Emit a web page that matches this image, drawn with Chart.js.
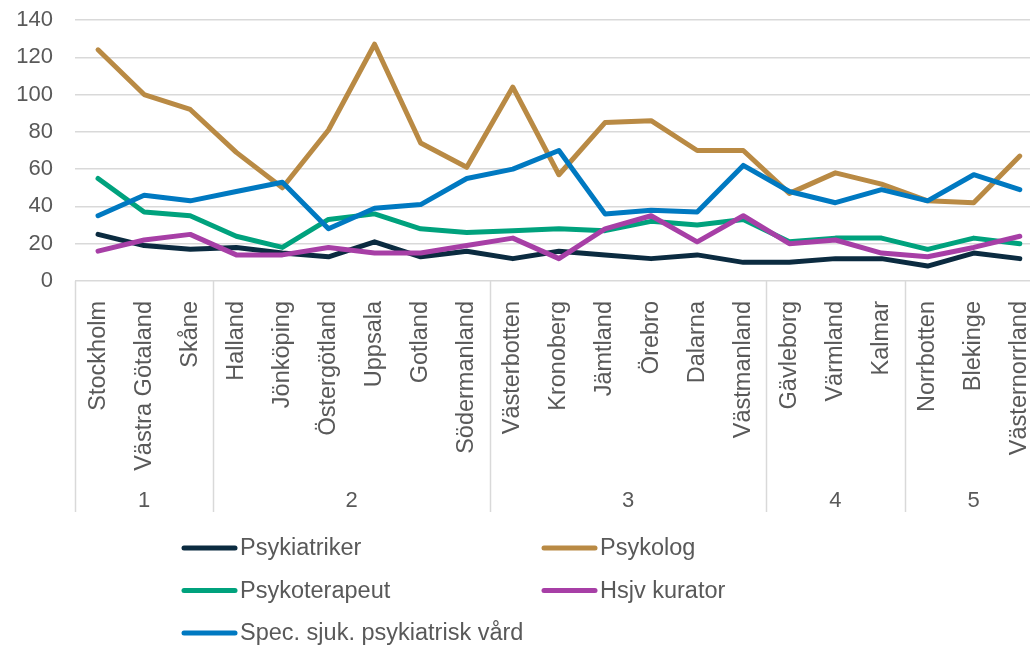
<!DOCTYPE html>
<html>
<head>
<meta charset="utf-8">
<script src="https://cdn.jsdelivr.net/npm/chart.js@4.4.0/dist/chart.umd.min.js"></script>
<style>
  html, body { margin: 0; padding: 0; background: #fff; overflow: hidden; }
  #wrap { width: 1060px; height: 645px; }
</style>
</head>
<body>
<div id="wrap"><canvas id="chart"></canvas></div>
<script>
// Regions (x axis categories)
const regions = ['Stockholm', 'Västra Götaland', 'Skåne', 'Halland', 'Jönköping', 'Östergötland',
    'Uppsala', 'Gotland', 'Södermanland', 'Västerbotten', 'Kronoberg', 'Jämtland', 'Örebro',
    'Dalarna', 'Västmanland', 'Gävleborg', 'Värmland', 'Kalmar', 'Norrbotten', 'Blekinge', 'Västernorrland'];

// Group row under the region labels
const groupLabels = ['1', '2', '3', '4', '5'];
const groupSizes = [3, 6, 6, 3, 3];

// Series values
const psykiatriker = [25, 19, 17, 18, 15, 13, 21, 13, 16, 12, 16, 14, 12, 14, 10, 10, 12, 12, 8, 15, 12];
const psykolog = [124, 100, 92, 69, 50, 81, 127, 74, 61, 104, 57, 85, 86, 70, 70, 47, 58, 52, 43, 42, 67];
const psykoterapeut = [55, 37, 35, 24, 18, 33, 36, 28, 26, 27, 28, 27, 32, 30, 33, 21, 23, 23, 17, 23, 20];
const kurator = [16, 22, 25, 14, 14, 18, 15, 15, 19, 23, 12, 28, 35, 21, 35, 20, 22, 15, 13, 18, 24];
const specVard = [35, 46, 43, 48, 53, 28, 39, 41, 55, 60, 70, 36, 38, 37, 62, 48, 42, 49, 43, 57, 49];

const yTicks = [0, 20, 40, 60, 80, 100, 120, 140];

const textColor = '#595959';
const gridColor = '#d9d9d9';
const fontFamily = '"Liberation Sans", Arial, sans-serif';

function series(label, data, color, order) {
    return {
        label: label,
        data: data,
        borderColor: color,
        backgroundColor: color,
        borderWidth: 5,
        pointRadius: 0,
        tension: 0,
        fill: false,
        borderJoinStyle: 'round',
        borderCapStyle: 'round',
        order: order
    };
}

// separators + group numbers under the axis
const groupPlugin = {
    id: 'groups',
    afterDraw(chart) {
        const ctx = chart.ctx;
        const x = chart.scales.x;
        const top = chart.chartArea.bottom;
        const bottom = x.bottom;
        ctx.save();
        ctx.strokeStyle = gridColor;
        ctx.lineWidth = 1.5;
        let start = 0;
        const edges = [-0.5];
        groupSizes.forEach(n => { start += n; edges.push(start - 0.5); });
        edges.forEach(e => {
            const px = Math.round(x.getPixelForValue(e)) + 0.5;
            ctx.beginPath();
            ctx.moveTo(px, top);
            ctx.lineTo(px, bottom);
            ctx.stroke();
        });
        ctx.fillStyle = textColor;
        ctx.font = '22px ' + fontFamily;
        ctx.textAlign = 'center';
        ctx.textBaseline = 'middle';
        start = 0;
        groupSizes.forEach((n, i) => {
            const mid = start + (n - 1) / 2;
            ctx.fillText(groupLabels[i], x.getPixelForValue(mid), bottom - 11);
            start += n;
        });
        ctx.restore();
    }
};

// two column legend below the chart
const legendPlugin = {
    id: 'colLegend',
    afterDraw(chart) {
        const ctx = chart.ctx;
        const base = chart.scales.x.bottom + 36;
        const cols = [182, 542];
        ctx.save();
        ctx.font = '23.5px ' + fontFamily;
        ctx.textBaseline = 'middle';
        ctx.textAlign = 'left';
        ctx.lineCap = 'round';
        chart.data.datasets.forEach((ds, i) => {
            const cx = cols[i % 2];
            const cy = base + Math.floor(i / 2) * 42.5;
            ctx.strokeStyle = ds.borderColor;
            ctx.lineWidth = 5;
            ctx.beginPath();
            ctx.moveTo(cx + 2, cy);
            ctx.lineTo(cx + 53, cy);
            ctx.stroke();
            ctx.fillStyle = textColor;
            ctx.fillText(ds.label, cx + 58, cy + 1);
        });
        ctx.restore();
    }
};

const chart = new Chart(document.getElementById('chart'), {
    type: 'line',
    data: {
        labels: regions,
        datasets: [
            series('Psykiatriker', psykiatriker, '#0b2b40', 5),
            series('Psykolog', psykolog, '#b98a44', 4),
            series('Psykoterapeut', psykoterapeut, '#00a27d', 3),
            series('Hsjv kurator', kurator, '#a73fa6', 2),
            series('Spec. sjuk. psykiatrisk vård', specVard, '#0079c1', 1)
        ]
    },
    options: {
        responsive: true,
        maintainAspectRatio: false,
        animation: false,
        layout: { padding: { top: 20, bottom: 133, left: 0, right: 0 } },
        plugins: {
            legend: { display: false },
            tooltip: { enabled: false }
        },
        scales: {
            x: {
                offset: true,
                grid: { display: false },
                border: { display: false },
                ticks: {
                    color: textColor,
                    font: { family: fontFamily, size: 23.5 },
                    minRotation: 90,
                    maxRotation: 90,
                    autoSkip: false,
                    padding: 12
                },
                afterFit(scale) { scale.height = 231; }
            },
            y: {
                min: 0,
                max: 140,
                grid: { color: gridColor, lineWidth: 1.5, drawTicks: true, tickLength: 22, tickColor: 'rgba(0,0,0,0)' },
                border: { display: false },
                ticks: {
                    color: textColor,
                    font: { family: fontFamily, size: 22 },
                    padding: 0
                },
                afterBuildTicks(scale) { scale.ticks = yTicks.map(v => ({ value: v })); },
                afterFit(scale) { scale.width = 75; }
            }
        }
    },
    plugins: [groupPlugin, legendPlugin]
});
</script>
</body>
</html>
